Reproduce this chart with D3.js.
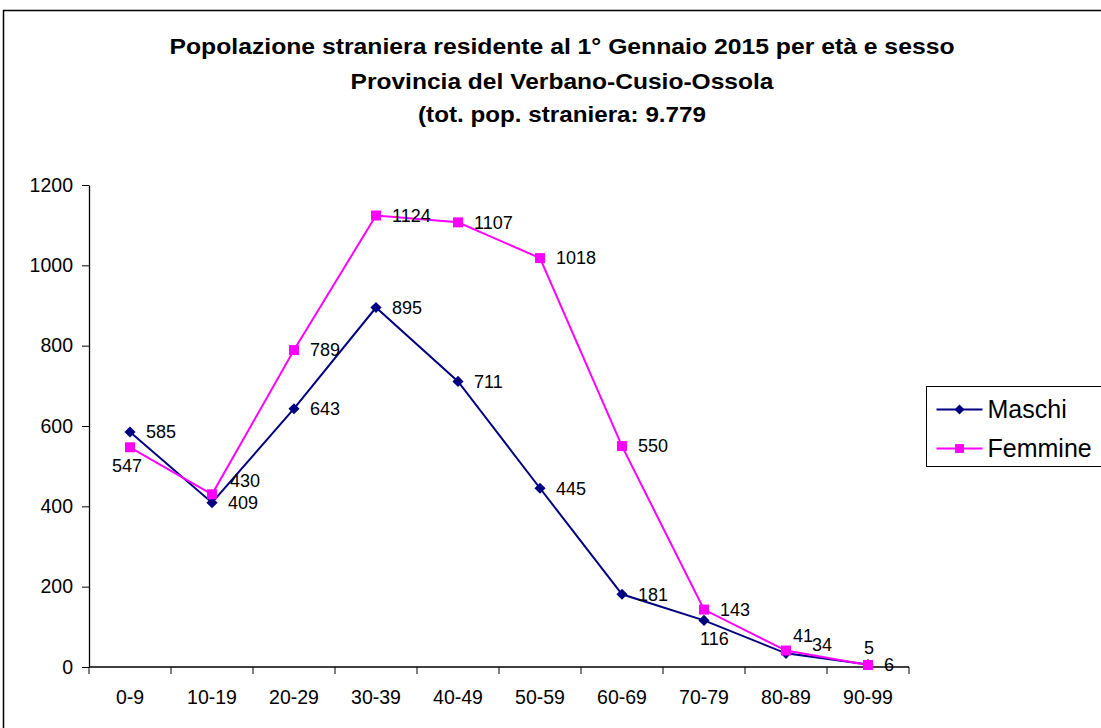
<!DOCTYPE html>
<html>
<head>
<meta charset="utf-8">
<script src="https://cdn.jsdelivr.net/npm/d3@7"></script>
<style>
  body { margin: 0; background: #fff; }
  svg { font-family: "Liberation Sans", Arial, sans-serif; }
</style>
</head>
<body>
<svg id="chart" width="1101" height="728"></svg>
<script>
// age classes and the two series
var ageClasses = ["0-9", "10-19", "20-29", "30-39", "40-49", "50-59", "60-69", "70-79", "80-89", "90-99"];
var maschi = [585, 409, 643, 895, 711, 445, 181, 116, 34, 6];
var femmine = [547, 430, 789, 1124, 1107, 1018, 550, 143, 41, 5];
var yTicks = [0, 200, 400, 600, 800, 1000, 1200];
var titleLines = [
  "Popolazione straniera residente al 1° Gennaio 2015 per età e sesso",
  "Provincia del Verbano-Cusio-Ossola",
  "(tot. pop. straniera: 9.779"
];

var margin = { top: 185, left: 89 };
var width = 820, height = 482;

var svg = d3.select("#chart");

// outer frame (right / bottom edges fall outside the picture)
svg.append("rect")
    .attr("x", 3.5).attr("y", 10.5)
    .attr("width", 1200).attr("height", 800)
    .attr("fill", "none").attr("stroke", "#000").attr("stroke-width", 1.5);

// title: the original glyphs are a bit wide, so fix each line's width
var titleBase = [54, 89, 122], titleLen = [785, 423, 288];
svg.selectAll(".title")
    .data(titleLines)
  .enter().append("text")
    .attr("class", "title")
    .attr("x", 562)
    .attr("y", function(d, i) { return titleBase[i]; })
    .attr("text-anchor", "middle")
    .attr("textLength", function(d, i) { return titleLen[i]; })
    .attr("lengthAdjust", "spacingAndGlyphs")
    .style("font-size", "22px")
    .style("font-weight", "bold")
    .text(function(d) { return d; });

var g = svg.append("g")
    .attr("transform", "translate(" + margin.left + "," + margin.top + ")");

var x = d3.scaleBand().domain(ageClasses).range([0, width]);
var y = d3.scaleLinear().domain([0, 1200]).range([height, 0]);

// y axis
var yAxis = g.append("g")
    .call(d3.axisLeft(y).tickValues(yTicks).tickFormat(d3.format("d"))
      .tickSize(7).tickSizeOuter(0).tickPadding(9));
yAxis.select(".domain").attr("stroke", "#000").attr("stroke-width", 1.3);
yAxis.selectAll("line").attr("stroke", "#000");
yAxis.selectAll("text").style("font-size", "19.5px").attr("fill", "#000");

// x axis, ticks between categories
var xAxis = g.append("g")
    .attr("transform", "translate(0," + height + ")");
xAxis.append("line")
    .attr("x1", 0).attr("x2", width)
    .attr("stroke", "#000").attr("stroke-width", 1.3);
xAxis.selectAll(".tk")
    .data(d3.range(ageClasses.length + 1))
  .enter().append("line")
    .attr("x1", function(i) { return i * x.step(); })
    .attr("x2", function(i) { return i * x.step(); })
    .attr("y1", 0).attr("y2", 7)
    .attr("stroke", "#000");
xAxis.selectAll(".lbl")
    .data(ageClasses)
  .enter().append("text")
    .attr("x", function(d) { return x(d) + x.bandwidth() / 2; })
    .attr("y", 37)
    .attr("text-anchor", "middle")
    .style("font-size", "19.5px")
    .text(function(d) { return d; });

var cx = function(d, i) { return x(ageClasses[i]) + x.bandwidth() / 2; };
var line = d3.line().x(cx).y(function(d) { return y(d); });

var series = [
  { name: "Maschi", values: maschi, color: "#000080", rot: 45, size: 62,
    // label offsets tweaked by hand in the original chart
    offsets: { 7: [-4, 18], 8: [26, -9] } },
  { name: "Femmine", values: femmine, color: "#FF00FF", rot: 0, size: 100,
    offsets: { 0: [-18, 18], 1: [18, -14], 8: [7, -15], 9: [-4, -17] } }
];

series.forEach(function(s) {
  g.append("path")
      .datum(s.values)
      .attr("d", line)
      .attr("fill", "none")
      .attr("stroke", s.color)
      .attr("stroke-width", 2);
});

series.forEach(function(s) {
  g.selectAll(null)
      .data(s.values)
    .enter().append("path")
      .attr("d", d3.symbol().type(d3.symbolSquare).size(s.size))
      .attr("transform", function(d, i) {
        return "translate(" + cx(d, i) + "," + y(d) + ") rotate(" + s.rot + ")";
      })
      .attr("fill", s.color);
});

series.forEach(function(s) {
  g.selectAll(null)
      .data(s.values)
    .enter().append("text")
      .attr("x", function(d, i) { return cx(d, i) + (s.offsets[i] ? s.offsets[i][0] : 16); })
      .attr("y", function(d, i) { return y(d) + (s.offsets[i] ? s.offsets[i][1] : 0); })
      .attr("dy", "0.35em")
      .style("font-size", "18px")
      .text(function(d) { return d; });
});

// legend
var legend = svg.append("g").attr("transform", "translate(926.5,386.5)");
legend.append("rect")
    .attr("width", 200).attr("height", 80)
    .attr("fill", "#fff").attr("stroke", "#000");
series.forEach(function(s, i) {
  var ly = 23 + i * 39;
  legend.append("line")
      .attr("x1", 10).attr("x2", 56).attr("y1", ly).attr("y2", ly)
      .attr("stroke", s.color).attr("stroke-width", 2);
  legend.append("path")
      .attr("d", d3.symbol().type(d3.symbolSquare).size(s.size * 0.8))
      .attr("transform", "translate(33," + ly + ") rotate(" + s.rot + ")")
      .attr("fill", s.color);
  legend.append("text")
      .attr("x", 61).attr("y", ly).attr("dy", "0.35em")
      .style("font-size", "25px")
      .text(s.name);
});
</script>
</body>
</html>
